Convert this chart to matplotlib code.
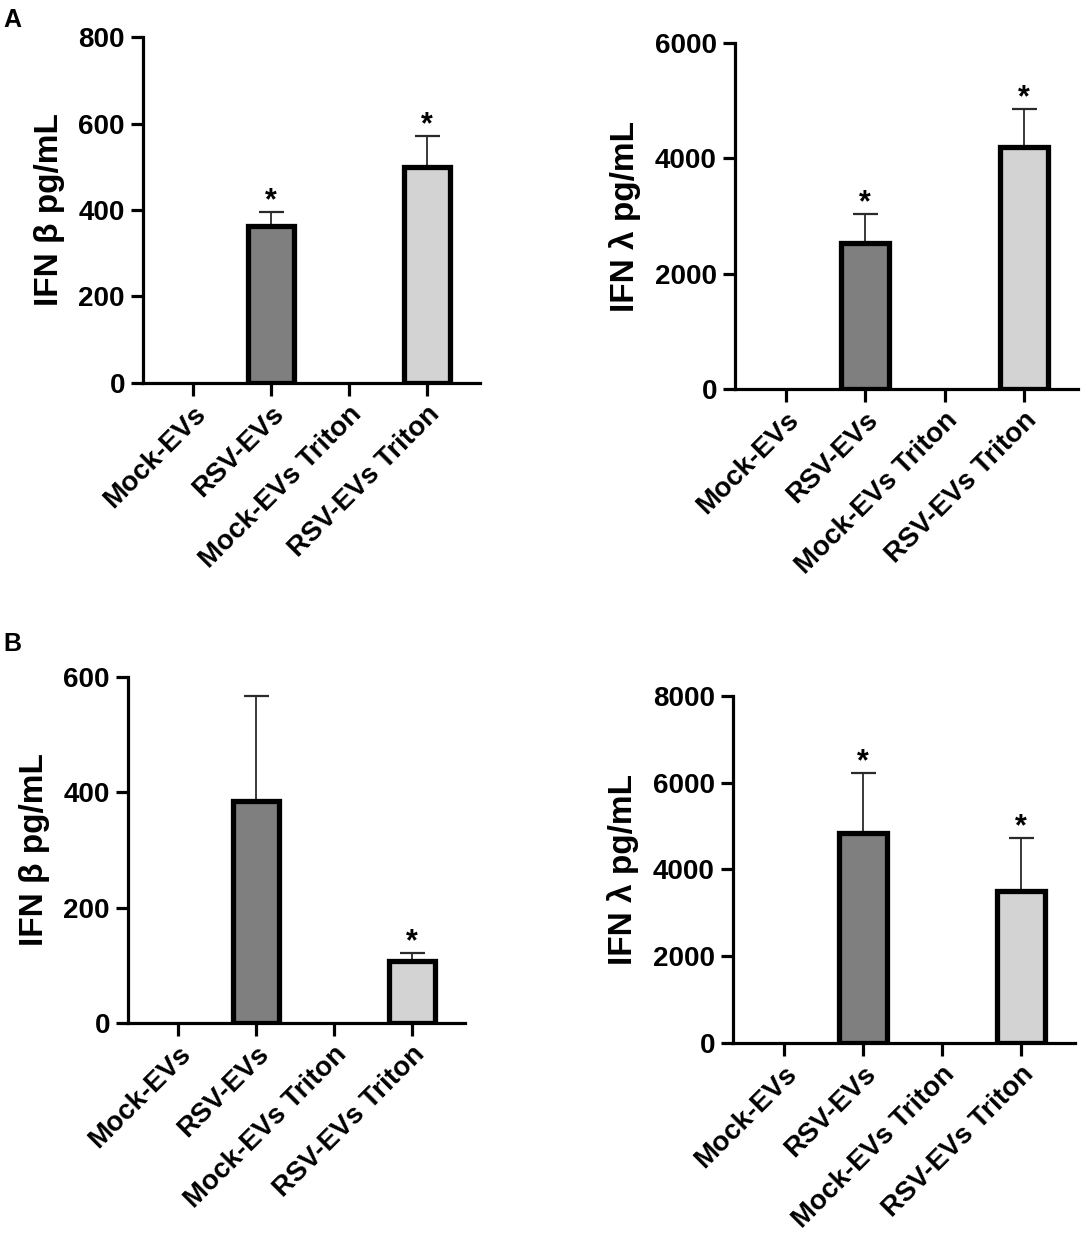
import matplotlib.pyplot as plt
import numpy as np

plt.rcParams['font.family'] = ['Liberation Sans', 'DejaVu Sans']
plt.rcParams['font.weight'] = 'bold'

groups = ["Mock-EVs", "RSV-EVs", "Mock-EVs Triton", "RSV-EVs Triton"]
bar_colors = ["white", "#7f7f7f", "white", "#d3d3d3"]

# panel A
a_beta_mean = [0, 362, 0, 500]
a_beta_err = [0, 33, 0, 70]
a_beta_star = [False, True, False, True]
a_lambda_mean = [0, 2530, 0, 4200]
a_lambda_err = [0, 500, 0, 650]
a_lambda_star = [False, True, False, True]

# panel B
b_beta_mean = [0, 385, 0, 107]
b_beta_err = [0, 183, 0, 15]
b_beta_star = [False, False, False, True]
b_lambda_mean = [0, 4840, 0, 3500]
b_lambda_err = [0, 1385, 0, 1220]
b_lambda_star = [False, True, False, True]


def bar_panel(ax, means, errs, stars, ymax, step, ylabel, labelpad):
    x = np.arange(len(groups))
    for i in range(len(groups)):
        if means[i] <= 0:
            continue
        ax.bar(x[i], means[i], width=0.6, color=bar_colors[i], edgecolor="black",
               linewidth=3.8, zorder=3)
        ax.errorbar(x[i], means[i], yerr=[[0], [errs[i]]], fmt="none", ecolor="#2a2a2a",
                    elinewidth=1.3, capsize=9, capthick=1.6, zorder=2)
        if stars[i]:
            ax.annotate("*", (x[i], means[i] + errs[i]), xytext=(0, -3),
                        textcoords="offset points", ha="center", va="bottom",
                        fontsize=22, fontweight="bold")
    ax.set_xlim(-0.64, 3.68)
    ax.set_ylim(0, ymax)
    ax.set_yticks(np.arange(0, ymax + 1, step))
    ax.set_xticks(x)
    ax.set_xticklabels(groups, rotation=45, ha="right", rotation_mode="anchor",
                       fontsize=19.5, fontweight="bold")
    ax.set_ylabel(ylabel, fontsize=24, fontweight="bold", labelpad=labelpad)
    for s in ["top", "right"]:
        ax.spines[s].set_visible(False)
    for s in ["left", "bottom"]:
        ax.spines[s].set_linewidth(2.3)
    ax.tick_params(axis="both", width=2.3, length=9, labelsize=20, pad=4)
    for lab in ax.get_yticklabels():
        lab.set_fontweight("bold")


fig = plt.figure(figsize=(10.82, 12.43), dpi=100)

ax1 = fig.add_axes([0.1322, 0.6919, 0.3115, 0.2783])
bar_panel(ax1, a_beta_mean, a_beta_err, a_beta_star, 800, 200, "IFN β pg/mL", 10)

ax2 = fig.add_axes([0.6793, 0.6870, 0.3170, 0.2784])
bar_panel(ax2, a_lambda_mean, a_lambda_err, a_lambda_star, 6000, 2000, "IFN λ pg/mL", 10)

ax3 = fig.add_axes([0.1183, 0.1770, 0.3115, 0.2783])
bar_panel(ax3, b_beta_mean, b_beta_err, b_beta_star, 600, 200, "IFN β pg/mL", 10)

ax4 = fig.add_axes([0.6775, 0.1609, 0.3160, 0.2792])
bar_panel(ax4, b_lambda_mean, b_lambda_err, b_lambda_star, 8000, 2000, "IFN λ pg/mL", 10)

fig.text(0.003, 0.984, "A", fontsize=18, fontweight="bold", va="center")
fig.text(0.003, 0.482, "B", fontsize=18, fontweight="bold", va="center")

fig.savefig("out.png", dpi=100)
